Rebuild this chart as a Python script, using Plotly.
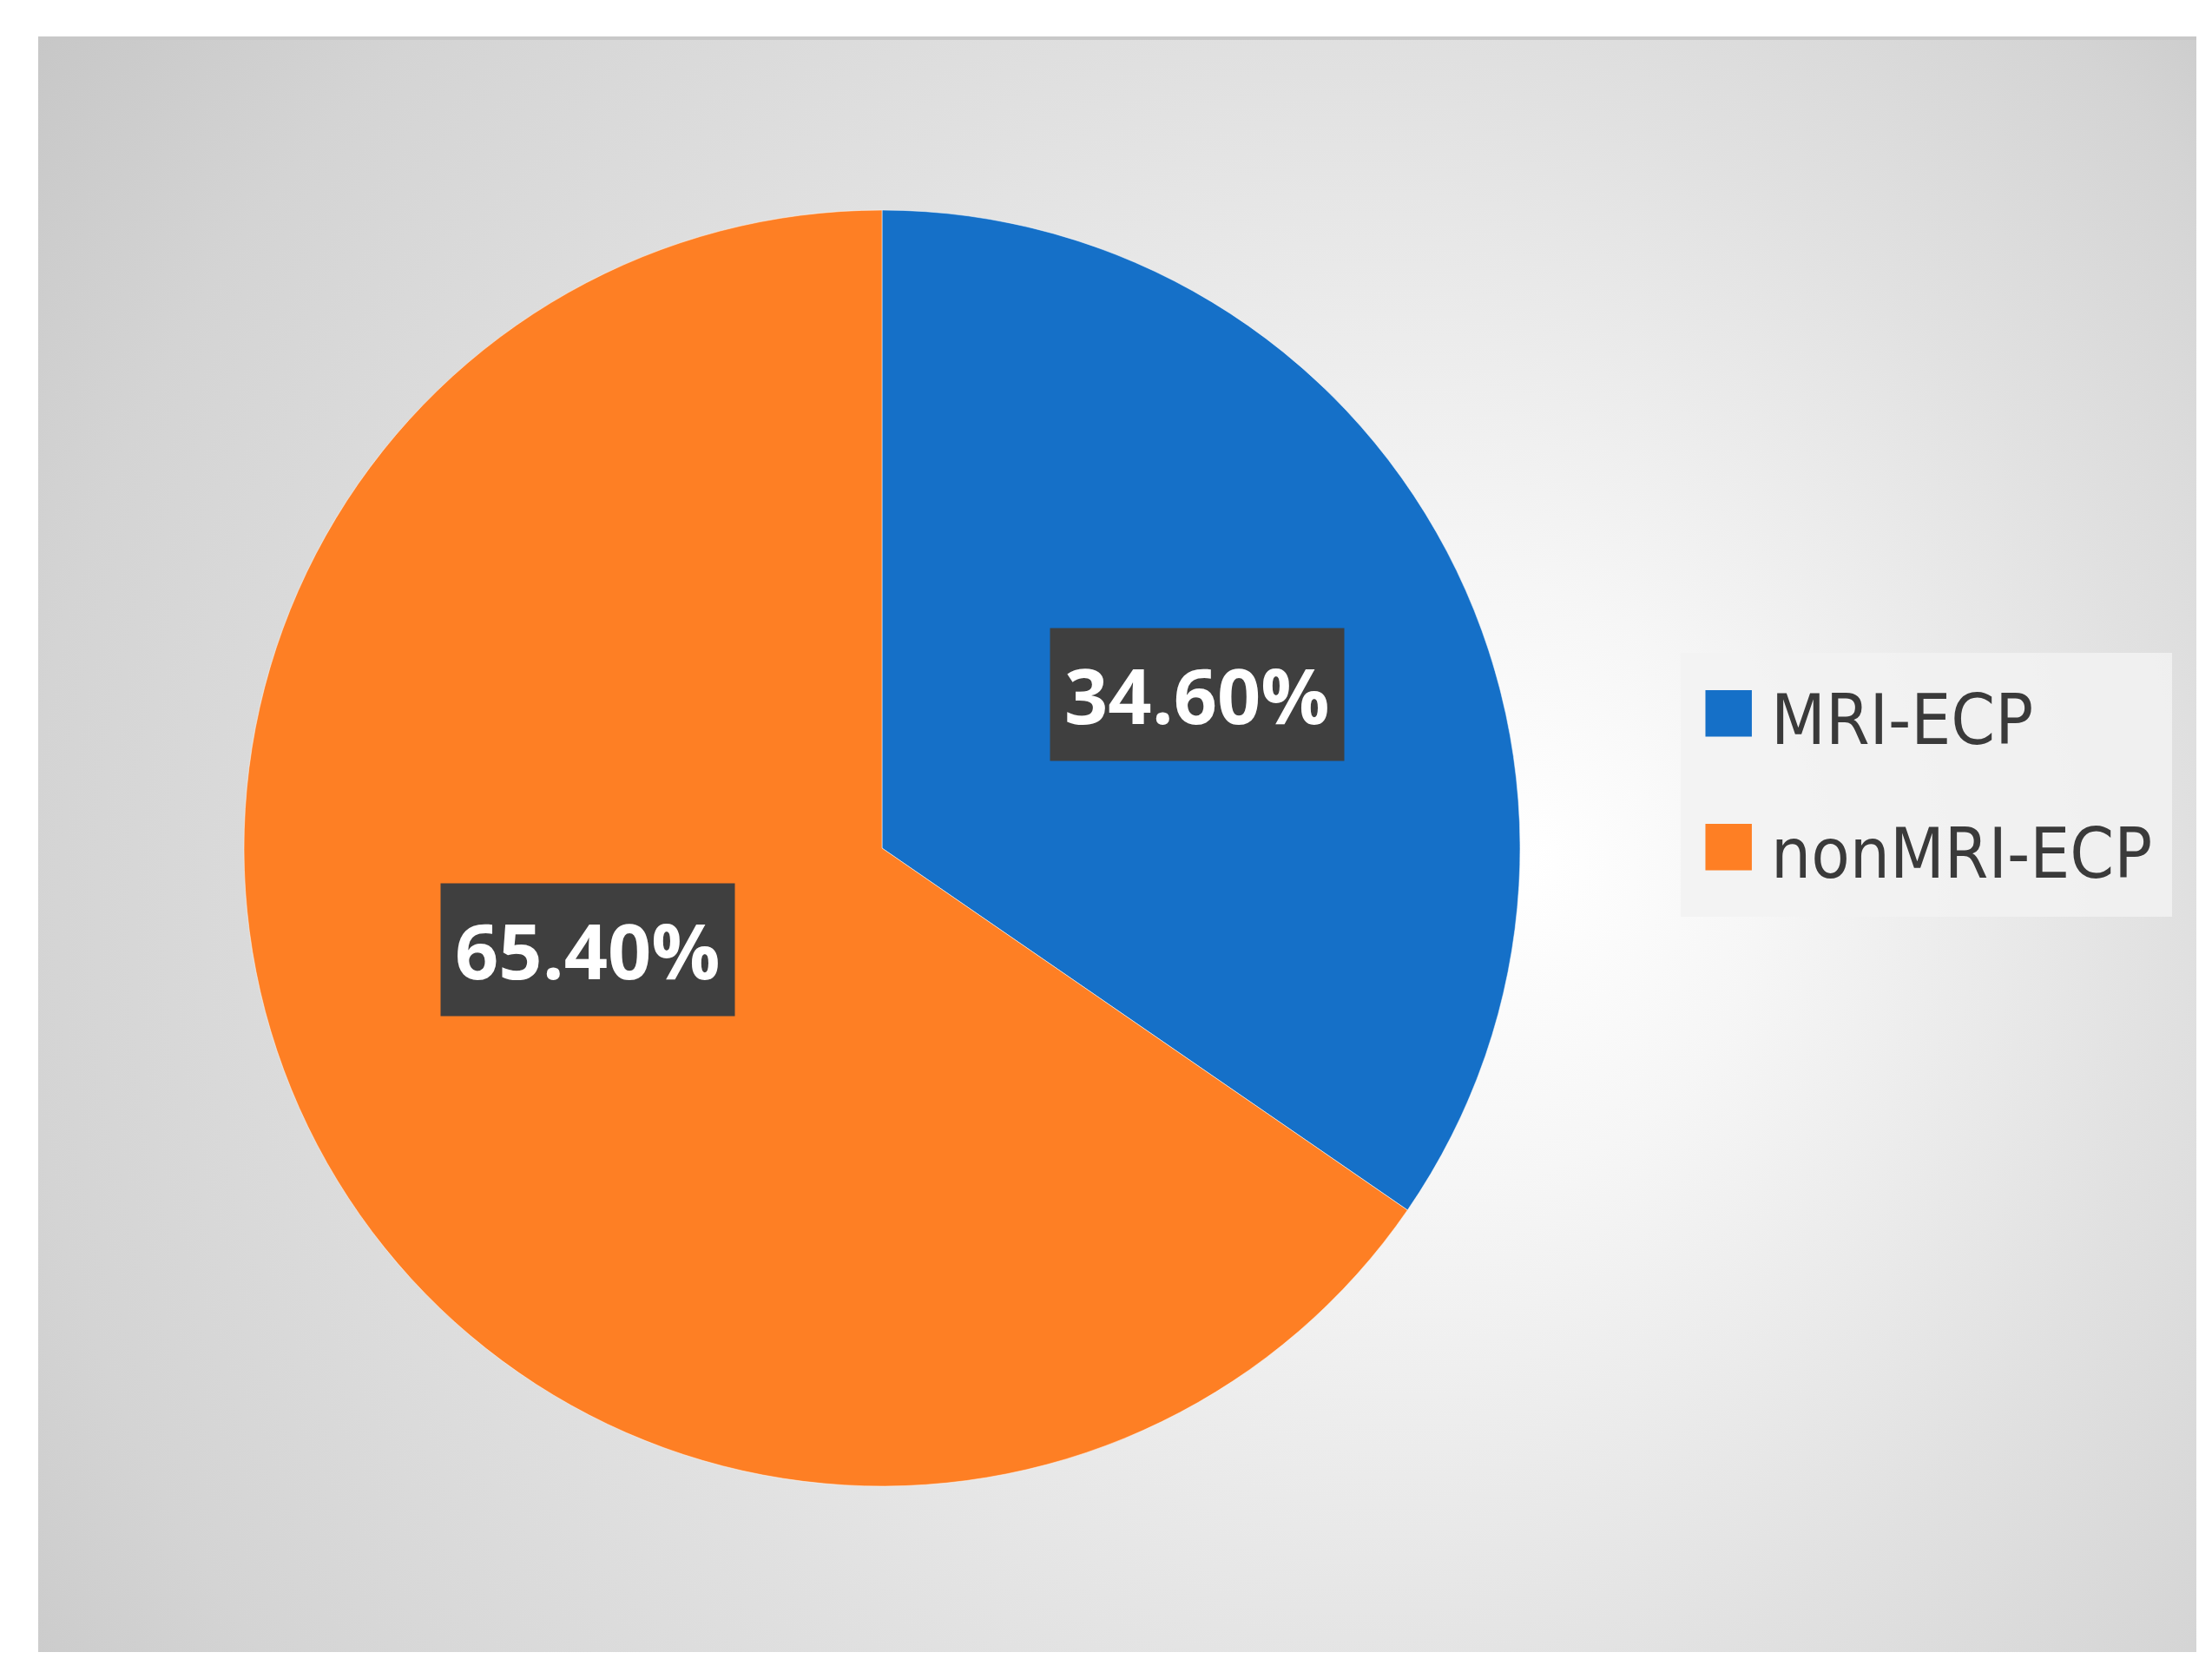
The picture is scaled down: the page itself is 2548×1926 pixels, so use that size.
import base64
import math
import plotly.graph_objects as go

# ---- data ----
labels = ["MRI-ECP", "nonMRI-ECP"]
values = [34.6, 65.4]
colors = ["#1570C8", "#FE7F24"]
value_labels = ["34.60%", "65.40%"]

# ---- layout geometry (pixels) ----
W, H = 2548, 1926
CX, CY, R = 1008, 969, 735
BG_X0, BG_Y0, BG_X1, BG_Y1 = 36, 34, 2522, 1895


def px(x):
    return x / W


def py(y):
    return 1 - y / H


bw, bh = BG_X1 - BG_X0, BG_Y1 - BG_Y0
svg = f"""<svg xmlns='http://www.w3.org/2000/svg' width='{bw}' height='{bh}' viewBox='0 0 {bw} {bh}'>
<defs><radialGradient id='g' gradientUnits='userSpaceOnUse' cx='1300' cy='1050' r='1750' fx='1720' fy='950'>
<stop offset='0' stop-color='#ffffff'/><stop offset='0.2' stop-color='#f6f6f6'/>
<stop offset='0.55' stop-color='#e1e1e1'/><stop offset='0.8' stop-color='#d4d4d4'/>
<stop offset='1' stop-color='#c4c4c4'/></radialGradient></defs>
<rect x='0' y='0' width='{bw}' height='{bh}' fill='url(#g)'/>
<rect x='0' y='0' width='{bw}' height='4' fill='#c8c8c8'/>
</svg>"""
src = "data:image/svg+xml;base64," + base64.b64encode(svg.encode()).decode()

fig = go.Figure(
    go.Pie(
        labels=labels,
        values=values,
        sort=False,
        direction="clockwise",
        rotation=0,
        marker=dict(colors=colors, line=dict(color="rgba(255,255,255,0.5)", width=1)),
        textinfo="none",
        hoverinfo="label+percent",
        domain=dict(x=[px(CX - R), px(CX + R)], y=[py(CY + R), py(CY - R)]),
        showlegend=False,
    )
)

annotations = []
# value labels placed near slice mid-angles
total = sum(values)
cum = 0.0
for v, t in zip(values, value_labels):
    theta = math.radians((cum + v / 2) / total * 360 + 5)
    cum += v
    f = 0.517
    lx = CX + 12 + f * R * math.sin(theta)
    ly = CY - 30 - f * R * math.cos(theta)
    annotations.append(dict(
        x=px(lx), y=py(ly), xref="paper", yref="paper", showarrow=False,
        text=f"<b>{t}</b>", font=dict(family="Open Sans", size=88, color="white"),
        bgcolor="#3f3f3f", borderpad=16, xanchor="center", yanchor="middle",
    ))

# legend (drawn as annotations)
mark_y = [808, 962]
text_y = [821, 975]
for lab, col, yy, ty in zip(labels, colors, mark_y, text_y):
    annotations.append(dict(
        x=px(1983), y=py(yy), xref="paper", yref="paper", showarrow=False,
        text="■", font=dict(family="DejaVu Sans", size=70, color=col),
        xanchor="center", yanchor="middle",
    ))
    annotations.append(dict(
        x=px(2030), y=py(ty), xref="paper", yref="paper", showarrow=False,
        text=lab, font=dict(family="DejaVu Sans Condensed, DejaVu Sans", size=81, color="#3a3a3a"),
        xanchor="left", yanchor="middle",
    ))

fig.update_layout(
    width=W, height=H,
    margin=dict(l=0, r=0, t=0, b=0),
    paper_bgcolor="white",
    plot_bgcolor="white",
    images=[dict(source=src, xref="paper", yref="paper", x=px(BG_X0), y=py(BG_Y0),
                 sizex=bw / W, sizey=bh / H, xanchor="left", yanchor="top",
                 sizing="stretch", layer="below")],
    shapes=[dict(type="rect", xref="paper", yref="paper", x0=px(1928), x1=px(2494),
                 y0=py(1048), y1=py(744), fillcolor="rgba(242,242,242,0.85)", line=dict(width=0),
                 layer="below")],
    annotations=annotations,
)

fig.write_html("out.html")
